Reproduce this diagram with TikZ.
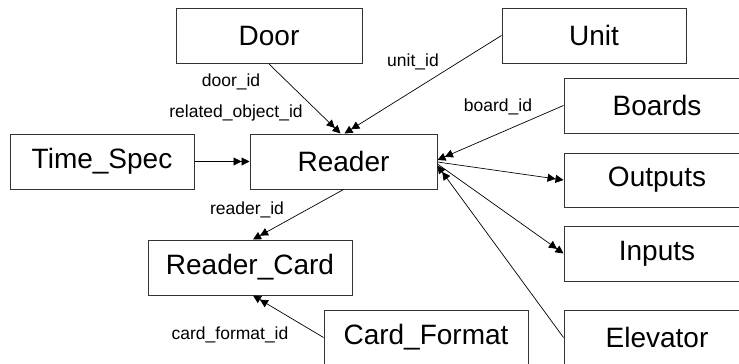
\documentclass[tikz,border=0pt]{standalone}
\usepackage{fontspec}
\setmainfont{Liberation Sans}
\usetikzlibrary{arrows.meta,calc}
\tikzset{
  entity/.style={draw=black!80, line width=1pt, fill=white, inner sep=0pt,
    font=\fontsize{28}{30}\selectfont, minimum height=55pt},
  rel/.style={line width=0.7pt, -{Triangle[length=8pt,width=8pt]Triangle[length=8pt,width=8pt]}},
  lbl/.style={font=\fontsize{17.5}{19}\selectfont, inner sep=0pt}
}
\begin{document}
\begin{tikzpicture}[x=1pt,y=-1pt]
\useasboundingbox (0,0) rectangle (739,364);
\clip (0,0) rectangle (739,364);
\fill[white] (0,0) rectangle (739,364);
% entities
\node[entity, minimum width=186pt] (door) at (269,36) {Door};
\node[entity, minimum width=184pt] (unit) at (594,35.5) {Unit};
\node[entity, minimum width=186pt] (boards) at (657,105.5) {Boards};
\node[entity, minimum width=186pt, minimum height=54pt] (outputs) at (657,180) {Outputs};
\node[entity, minimum width=186pt] (inputs) at (657,253.5) {Inputs};
\node[entity, minimum width=186pt] (elevator) at (657,337.5) {Elevator};
\node[entity, minimum width=187pt] (reader) at (343.5,161.5) {Reader};
\node[entity, minimum width=184pt] (timespec) at (102,161.5) {Time\_Spec};
\node[entity, minimum width=204pt] (readercard) at (250,267.5) {Reader\_Card};
\node[entity, minimum width=204pt] (cardformat) at (426,337.5) {Card\_Format};
% connectors
\draw[rel] (door.south) -- ($(reader.north)+(-3,0)$);
\draw[rel] (unit.west) -- ($(reader.north)+(1,0)$);
\draw[rel] (boards.west) -- ($(reader.east)+(0,-1.5)$);
\draw[rel] ($(reader.east)+(0,0.5)$) -- (outputs.west);
\draw[rel] ($(reader.east)+(0,2.5)$) -- (inputs.west);
\draw[rel] (elevator.west) -- ($(reader.east)+(0,4)$);
\draw[rel] (timespec.east) -- (reader.west);
\draw[rel] (reader.south) -- ($(readercard.north)+(3,0)$);
\draw[rel] (cardformat.west) -- ($(readercard.south)+(3,0)$);
% labels
\node[lbl] (l1) at (231,82) {door\_id};
\node[lbl] (l2) at (236,113) {related\_object\_id};
\node[lbl] (l3) at (413,62) {unit\_id};
\node[lbl] (l4) at (498,107) {board\_id};
\node[lbl] (l5) at (247,210) {reader\_id};
\node[lbl] (l6) at (230,335) {card\_format\_id};
\end{tikzpicture}
\end{document}
